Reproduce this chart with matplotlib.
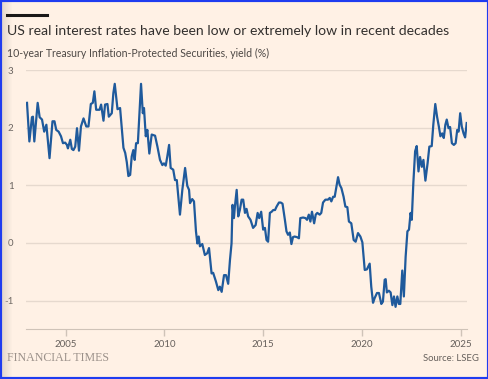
import matplotlib
matplotlib.use("Agg")
import matplotlib.pyplot as plt
from matplotlib.patches import Rectangle
from matplotlib.lines import Line2D

# 10-year TIPS yield (%) (decimal year, value)
years = [2003.05, 2003.17, 2003.30, 2003.35, 2003.42, 2003.59, 2003.69, 2003.81, 2003.92,
         2004.03, 2004.19, 2004.34, 2004.44, 2004.53, 2004.65, 2004.77, 2004.87, 2004.98,
         2005.07, 2005.12, 2005.24, 2005.32, 2005.40, 2005.49, 2005.58, 2005.68, 2005.78,
         2005.91, 2006.05, 2006.16, 2006.28, 2006.38, 2006.46, 2006.55, 2006.72, 2006.80,
         2006.92, 2007.00, 2007.12, 2007.19, 2007.34, 2007.42, 2007.49, 2007.63, 2007.76,
         2007.93, 2008.02, 2008.10, 2008.18, 2008.27, 2008.35, 2008.43, 2008.50, 2008.57,
         2008.66, 2008.74, 2008.82, 2008.91, 2008.97, 2009.06, 2009.14, 2009.24, 2009.36,
         2009.53, 2009.65, 2009.78, 2009.90, 2009.98, 2010.07, 2010.15, 2010.24, 2010.32,
         2010.45, 2010.54, 2010.63, 2010.79, 2010.91, 2011.05, 2011.16, 2011.25, 2011.30,
         2011.41, 2011.50, 2011.60, 2011.67, 2011.74, 2011.80, 2011.92, 2012.05, 2012.17,
         2012.26, 2012.39, 2012.47, 2012.61, 2012.73, 2012.81, 2012.90, 2013.02, 2013.12,
         2013.23, 2013.32, 2013.40, 2013.45, 2013.52, 2013.57, 2013.66, 2013.74, 2013.82,
         2013.91, 2013.99, 2014.08, 2014.16, 2014.24, 2014.36, 2014.49, 2014.62, 2014.72,
         2014.80, 2014.90, 2015.00, 2015.09, 2015.17, 2015.25, 2015.34, 2015.43, 2015.51,
         2015.60, 2015.68, 2015.80, 2015.89, 2015.98, 2016.10, 2016.18, 2016.26, 2016.35,
         2016.43, 2016.51, 2016.59, 2016.71, 2016.81, 2016.88, 2017.02, 2017.14, 2017.22,
         2017.31, 2017.39, 2017.47, 2017.58, 2017.66, 2017.74, 2017.86, 2017.94, 2018.03,
         2018.15, 2018.28, 2018.37, 2018.45, 2018.54, 2018.62, 2018.71, 2018.79, 2018.87,
         2018.96, 2019.07, 2019.16, 2019.26, 2019.34, 2019.46, 2019.58, 2019.68, 2019.80,
         2019.92, 2020.02, 2020.14, 2020.25, 2020.39, 2020.47, 2020.56, 2020.64, 2020.76,
         2020.86, 2020.98, 2021.06, 2021.15, 2021.20, 2021.26, 2021.36, 2021.45, 2021.54,
         2021.62, 2021.70, 2021.79, 2021.87, 2021.94, 2022.04, 2022.12, 2022.21, 2022.30,
         2022.38, 2022.46, 2022.52, 2022.60, 2022.69, 2022.77, 2022.86, 2022.94, 2023.03,
         2023.11, 2023.21, 2023.32, 2023.41, 2023.53, 2023.61, 2023.71, 2023.80, 2023.89,
         2023.97, 2024.06, 2024.14, 2024.22, 2024.29, 2024.38, 2024.46, 2024.55, 2024.65,
         2024.74, 2024.82, 2024.89, 2024.97, 2025.05, 2025.14, 2025.22, 2025.30]
yields = [2.43, 1.76, 2.18, 2.19, 1.76, 2.43, 2.18, 2.14, 1.93,
          2.05, 1.47, 2.11, 2.11, 1.96, 1.93, 1.85, 1.73, 1.74,
          1.70, 1.64, 1.79, 1.63, 1.61, 1.67, 1.99, 1.60, 2.02,
          2.16, 2.02, 2.02, 2.41, 2.43, 2.63, 2.31, 2.31, 2.40,
          2.12, 2.40, 2.41, 2.19, 2.25, 2.60, 2.76, 2.32, 2.34,
          1.65, 1.56, 1.40, 1.16, 1.18, 1.50, 1.61, 1.44, 1.73,
          1.73, 2.25, 2.76, 2.25, 2.34, 1.85, 1.96, 1.55, 1.88,
          1.86, 1.67, 1.44, 1.35, 1.38, 1.34, 1.50, 1.70, 1.30,
          1.27, 1.09, 1.09, 0.49, 0.92, 1.30, 0.99, 0.92, 0.69,
          0.76, 0.72, 0.20, -0.01, 0.11, -0.06, -0.02, -0.21, -0.18,
          -0.09, -0.53, -0.52, -0.67, -0.82, -0.76, -0.85, -0.56, -0.56,
          -0.71, -0.30, -0.01, 0.66, 0.43, 0.63, 0.92, 0.46, 0.57,
          0.75, 0.75, 0.52, 0.59, 0.46, 0.40, 0.26, 0.31, 0.52,
          0.43, 0.54, 0.23, 0.26, 0.05, 0.02, 0.52, 0.54, 0.57,
          0.57, 0.63, 0.70, 0.70, 0.68, 0.40, 0.20, 0.14, 0.18,
          -0.02, 0.10, 0.11, 0.10, 0.08, 0.43, 0.44, 0.43, 0.40,
          0.49, 0.37, 0.54, 0.34, 0.49, 0.52, 0.49, 0.52, 0.70,
          0.75, 0.75, 0.78, 0.72, 0.80, 0.80, 0.98, 1.14, 1.01,
          0.95, 0.80, 0.63, 0.62, 0.37, 0.34, 0.05, 0.02, 0.17,
          0.11, 0.01, -0.47, -0.46, -0.36, -0.76, -1.04, -0.96, -0.87,
          -0.87, -1.06, -1.02, -0.64, -0.63, -0.86, -0.83, -0.86, -1.08,
          -0.93, -1.11, -0.93, -1.06, -1.06, -0.48, -0.93, -0.24, 0.20,
          0.23, 0.52, 0.40, 1.04, 1.59, 1.68, 1.24, 1.49, 1.32,
          1.44, 1.08, 1.38, 1.67, 1.68, 2.05, 2.41, 2.19, 2.02,
          1.85, 1.90, 1.82, 2.05, 2.14, 1.99, 2.01, 1.73, 1.70,
          1.73, 1.96, 1.93, 2.25, 2.02, 1.90, 1.83, 2.08]

y_ticks = [3, 2, 1, 0, -1]
x_ticks = [2005, 2010, 2015, 2020, 2025]

bg = "#fff1e5"
grid_col = "#e6d9ce"
txt_col = "#66605c"
line_col = "#1f5a9c"

fig = plt.figure(figsize=(4.89, 3.79), dpi=100, facecolor=bg)
plt.rcParams["font.family"] = ["Lato", "DejaVu Sans"]

ax = fig.add_axes([0.0532, 0.1311, 0.9012, 0.6842])
ax.set_facecolor(bg)
ax.plot(years, yields, color=line_col, lw=1.6, solid_joinstyle="round")
ax.set_xlim(2003.0, 2025.3)
ax.set_ylim(-1.5, 3)

ax.set_yticks(y_ticks)
ax.set_yticklabels([str(t) for t in y_ticks])
ax.set_xticks(x_ticks)
ax.set_xticklabels([str(t) for t in x_ticks])
ax.yaxis.grid(True, color=grid_col, lw=1)
ax.set_axisbelow(True)
for s in ["top", "right", "left"]:
    ax.spines[s].set_visible(False)
ax.spines["bottom"].set_color("#cfc3b8")
ax.tick_params(axis="y", length=0, pad=9, labelsize=7, labelcolor=txt_col)
ax.tick_params(axis="x", length=5, width=1, color="#cfc3b8", pad=3,
               labelsize=7, labelcolor=txt_col)

# header
fig.add_artist(Line2D([7.3 / 489, 47.3 / 489], [1 - 15.3 / 379] * 2,
                      color="#1a1817", lw=2.2, transform=fig.transFigure))
fig.text(7.3 / 489, 1 - 31 / 379, "US real interest rates have been low or extremely low in recent decades",
         fontsize=10.1, color="#33302e", va="center", ha="left")
fig.text(7.3 / 489, 1 - 53.3 / 379, "10-year Treasury Inflation-Protected Securities, yield (%)",
         fontsize=7.6, color="#4d4845", va="center", ha="left")

# footer
fig.text(7.3 / 489, 1 - 357.7 / 379, "FINANCIAL TIMES", family="Liberation Serif",
         fontsize=8.6, color="#9b918a", va="center", ha="left")
fig.text(479.3 / 489, 1 - 358.7 / 379, "Source: LSEG", fontsize=6.8, color=txt_col,
         va="center", ha="right")

# left shadow and blue frame
for i in range(10):
    fig.patches.append(Rectangle(((2 + i) / 489, 0), 1 / 489, 1, transform=fig.transFigure,
                                 facecolor="#cfc4ba", alpha=0.55 * (1 - i / 10), lw=0))
fig.patches.append(Rectangle((0, 0), 1, 1, transform=fig.transFigure, fill=False,
                             edgecolor="#1f3cf0", lw=3))

fig.savefig("out.png", dpi=100, facecolor=bg)
